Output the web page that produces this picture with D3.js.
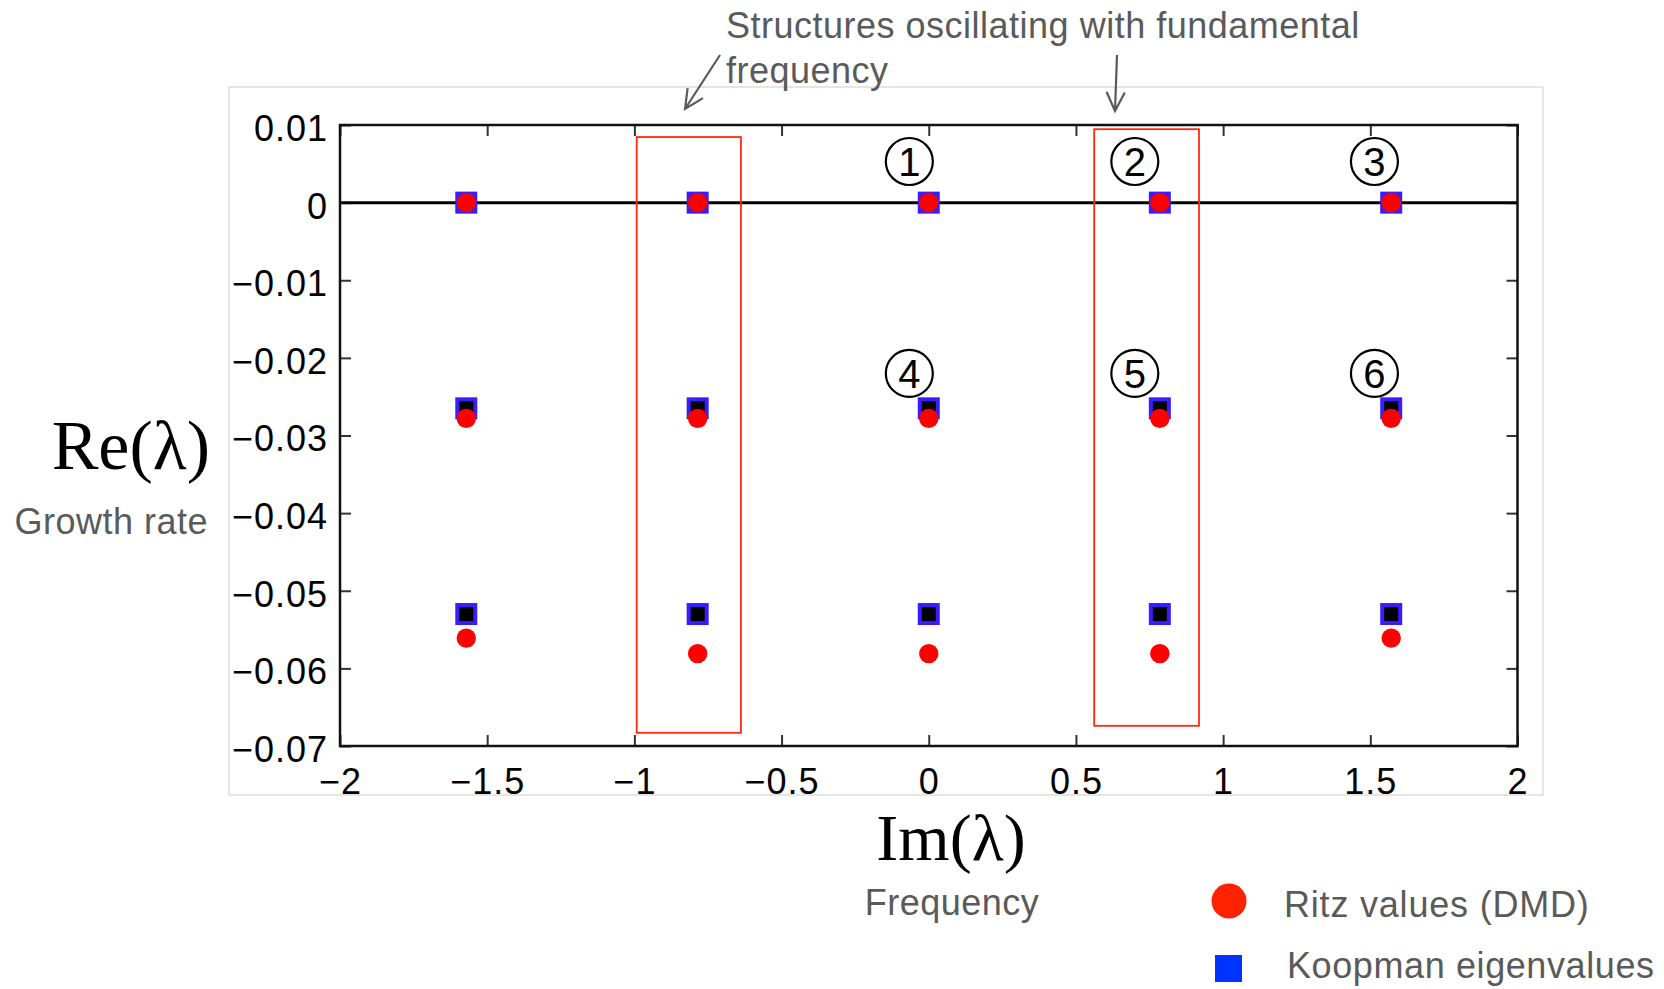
<!DOCTYPE html>
<html>
<head>
<meta charset="utf-8">
<script src="https://cdn.jsdelivr.net/npm/d3@7"></script>
<style>
  body { margin: 0; background: #fff; }
</style>
</head>
<body>
<script>
// eigenvalue positions
var imagPart = [-1.571, -0.785, 0, 0.785, 1.571];
var koopman0 = [0, 0, 0, 0, 0];
var koopman1 = [-0.0265, -0.0265, -0.0265, -0.0265, -0.0265];
var koopman2 = [-0.053, -0.053, -0.053, -0.053, -0.053];
var ritz0 = [0, 0, 0, 0, 0];
var ritz1 = [-0.0278, -0.0278, -0.0278, -0.0278, -0.0278];
var ritz2 = [-0.0561, -0.0581, -0.0581, -0.0581, -0.0561];

var xTicks = [-2, -1.5, -1, -0.5, 0, 0.5, 1, 1.5, 2];
var xTickLabels = ["\u22122", "\u22121.5", "\u22121", "\u22120.5", "0", "0.5", "1", "1.5", "2"];
var yTicks = [0.01, 0, -0.01, -0.02, -0.03, -0.04, -0.05, -0.06, -0.07];
var yTickLabels = ["0.01", "0", "\u22120.01", "\u22120.02", "\u22120.03", "\u22120.04", "\u22120.05", "\u22120.06", "\u22120.07"];

// annotation boxes (data coords) and numbered modes
var boxX0 = [-0.992, 0.562];
var boxX1 = [-0.638, 0.918];
var boxTop = [0.00845, 0.00946];
var boxBottom = [-0.0683, -0.0674];
var modeNames = ["1", "2", "3", "4", "5", "6"];
var modeIm = [-0.066, 0.700, 1.514, -0.066, 0.700, 1.514];
var modeRe = [0.0053, 0.0053, 0.0053, -0.0220, -0.0220, -0.0220];

var margin = { top: 125, right: 146.5, bottom: 243, left: 340 },
    width = 1664 - margin.left - margin.right,
    height = 989 - margin.top - margin.bottom;

var sans = "'Liberation Sans', Arial, sans-serif";
var serif = "'Liberation Serif', 'Times New Roman', serif";
var grey = "#5a5a5a";

var root = d3.select("body").append("svg")
    .attr("width", 1664)
    .attr("height", 989);

// light frame round the figure
root.append("rect")
    .attr("x", 229).attr("y", 87)
    .attr("width", 1314).attr("height", 708)
    .attr("fill", "none")
    .attr("stroke", "#dddddd")
    .attr("stroke-width", 1.5);

var svg = root.append("g")
    .attr("transform", "translate(" + margin.left + "," + margin.top + ")");

var xScale = d3.scaleLinear().domain([-2, 2]).range([0, width]);
var yScale = d3.scaleLinear().domain([-0.07, 0.01]).range([height, 0]);

// axes, ticks pointing inwards on all four sides
function styleAxis(g) {
    g.select(".domain").remove();
    g.selectAll(".tick line").attr("stroke", "#333").attr("stroke-width", 2);
    g.selectAll("text")
        .attr("fill", "#000")
        .style("font-family", sans)
        .style("font-size", "36px")
        .style("letter-spacing", "1px");
}

svg.append("g")
    .attr("transform", "translate(0," + height + ")")
    .call(d3.axisBottom(xScale).tickValues(xTicks)
        .tickFormat(function (d, i) { return xTickLabels[i]; })
        .tickSizeInner(-11).tickSizeOuter(0).tickPadding(22))
    .call(styleAxis);

svg.append("g")
    .call(d3.axisTop(xScale).tickValues(xTicks).tickFormat("")
        .tickSizeInner(-11).tickSizeOuter(0))
    .call(styleAxis);

svg.append("g")
    .call(d3.axisLeft(yScale).tickValues(yTicks)
        .tickFormat(function (d, i) { return yTickLabels[i]; })
        .tickSizeInner(-11).tickSizeOuter(0).tickPadding(12))
    .call(styleAxis)
    .selectAll("text").attr("dy", "0.43em");

svg.append("g")
    .attr("transform", "translate(" + width + ",0)")
    .call(d3.axisRight(yScale).tickValues(yTicks).tickFormat("")
        .tickSizeInner(-11).tickSizeOuter(0))
    .call(styleAxis);

// zero growth line
svg.append("line")
    .attr("x1", 0).attr("x2", width)
    .attr("y1", yScale(0)).attr("y2", yScale(0))
    .attr("stroke", "#000")
    .attr("stroke-width", 3);

svg.append("rect")
    .attr("width", width).attr("height", height)
    .attr("fill", "none")
    .attr("stroke", "#111")
    .attr("stroke-width", 2.5);

// red boxes
svg.selectAll(".box")
    .data(boxX0)
    .enter().append("rect")
    .attr("class", "box")
    .attr("x", function (d, i) { return xScale(boxX0[i]); })
    .attr("y", function (d, i) { return yScale(boxTop[i]); })
    .attr("width", function (d, i) { return xScale(boxX1[i]) - xScale(boxX0[i]); })
    .attr("height", function (d, i) { return yScale(boxBottom[i]) - yScale(boxTop[i]); })
    .attr("fill", "none")
    .attr("stroke", "#ff2a0a")
    .attr("stroke-width", 1.8);

// circled mode numbers
var modes = svg.selectAll(".mode")
    .data(modeNames)
    .enter().append("g")
    .attr("class", "mode")
    .attr("transform", function (d, i) {
        return "translate(" + xScale(modeIm[i]) + "," + yScale(modeRe[i]) + ")";
    });
modes.append("circle")
    .attr("r", 23.5)
    .attr("fill", "none")
    .attr("stroke", "#000")
    .attr("stroke-width", 2.2);
modes.append("text")
    .text(function (d) { return d; })
    .attr("text-anchor", "middle")
    .attr("dy", "0.36em")
    .style("font-family", sans)
    .style("font-size", "40px")
    .attr("fill", "#000");

// Koopman eigenvalues: black face, blue edge
var koopman = [];
[koopman0, koopman1, koopman2].forEach(function (row) {
    row.forEach(function (v, i) { koopman.push({ im: imagPart[i], re: v }); });
});
var ritz = [];
[ritz0, ritz1, ritz2].forEach(function (row) {
    row.forEach(function (v, i) { ritz.push({ im: imagPart[i], re: v }); });
});

var sq = 18;
svg.selectAll(".koop")
    .data(koopman)
    .enter().append("rect")
    .attr("class", "koop")
    .attr("x", function (d) { return xScale(d.im) - sq / 2; })
    .attr("y", function (d) { return yScale(d.re) - sq / 2; })
    .attr("width", sq).attr("height", sq)
    .attr("fill", "#000")
    .attr("stroke", "#3a1cff")
    .attr("stroke-width", 4);

svg.selectAll(".ritz")
    .data(ritz)
    .enter().append("circle")
    .attr("class", "ritz")
    .attr("cx", function (d) { return xScale(d.im); })
    .attr("cy", function (d) { return yScale(d.re); })
    .attr("r", 9.7)
    .attr("fill", "#ff0000");

// axis titles
root.append("text")
    .text("Re(\u03bb)")
    .attr("x", 210).attr("y", 469)
    .attr("text-anchor", "end")
    .style("font-family", serif)
    .style("font-size", "70px")
    .attr("fill", "#000");
root.append("text")
    .text("Growth rate")
    .attr("x", 208).attr("y", 534)
    .attr("text-anchor", "end")
    .style("font-family", sans)
    .style("font-size", "36px")
    .style("letter-spacing", "0.5px")
    .attr("fill", grey);

root.append("text")
    .text("Im(\u03bb)")
    .attr("x", 951).attr("y", 860)
    .attr("text-anchor", "middle")
    .style("font-family", serif)
    .style("font-size", "66px")
    .attr("fill", "#000");
root.append("text")
    .text("Frequency")
    .attr("x", 952).attr("y", 915)
    .attr("text-anchor", "middle")
    .style("font-family", sans)
    .style("font-size", "36px")
    .style("letter-spacing", "0.5px")
    .attr("fill", grey);

// note at the top with its two arrows
var note = root.append("text")
    .attr("x", 726).attr("y", 38)
    .style("font-family", sans)
    .style("font-size", "36px")
    .style("letter-spacing", "0.5px")
    .attr("fill", grey);
note.append("tspan").attr("x", 726).text("Structures oscillating with fundamental");
note.append("tspan").attr("x", 726).attr("dy", 45).text("frequency");

function arrow(x1, y1, x2, y2) {
    var a = Math.atan2(y2 - y1, x2 - x1), len = 21, spread = 0.45;
    var p = d3.path();
    p.moveTo(x1, y1); p.lineTo(x2, y2);
    p.moveTo(x2 - len * Math.cos(a - spread), y2 - len * Math.sin(a - spread));
    p.lineTo(x2, y2);
    p.lineTo(x2 - len * Math.cos(a + spread), y2 - len * Math.sin(a + spread));
    root.append("path")
        .attr("d", p.toString())
        .attr("fill", "none")
        .attr("stroke", grey)
        .attr("stroke-width", 2.2);
}
arrow(720, 55, 685, 109);
arrow(1117, 55, 1115, 111);

// legend
root.append("ellipse")
    .attr("cx", 1229).attr("cy", 901)
    .attr("rx", 17.5).attr("ry", 17.5)
    .attr("fill", "#ff2200");
root.append("rect")
    .attr("x", 1215).attr("y", 955)
    .attr("width", 27).attr("height", 27)
    .attr("fill", "#0033ff");
root.append("text")
    .text("Ritz values (DMD)")
    .attr("x", 1284).attr("y", 917)
    .style("font-family", sans)
    .style("font-size", "36px")
    .style("letter-spacing", "0.8px")
    .attr("fill", grey);
root.append("text")
    .text("Koopman eigenvalues")
    .attr("x", 1287).attr("y", 978)
    .style("font-family", sans)
    .style("font-size", "36px")
    .style("letter-spacing", "0.6px")
    .attr("fill", grey);
</script>
</body>
</html>
